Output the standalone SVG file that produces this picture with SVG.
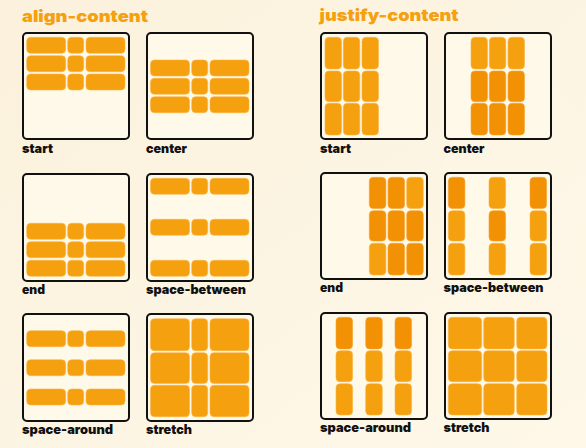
<svg xmlns="http://www.w3.org/2000/svg" width="586" height="448" viewBox="0 0 586 448">
<defs>
<linearGradient id="bg" x1="0" y1="0" x2="1" y2="1">
<stop offset="0" stop-color="#FBF1DC"/>
<stop offset="1" stop-color="#FEF8E9"/>
</linearGradient>
</defs>
<style>
.box{fill:#FFF9EA;stroke:#111;stroke-width:2}
.it{fill:#F5A00F;stroke:#F8B545;stroke-width:0.6}
.dk{fill:#F29104;stroke:#F5A432;stroke-width:0.6}
.ttl{font-family:"Inter","Noto Sans","DejaVu Sans",sans-serif;font-weight:900;font-size:16.5px;fill:#F5A00F}
.lbl{font-family:"Inter","Noto Sans","DejaVu Sans",sans-serif;font-weight:900;font-size:12.8px;fill:#111}
</style>
<rect width="586" height="448" fill="url(#bg)"/>
<polygon points="500,40 586,120 586,300 440,170" fill="#FEF7E6" opacity="0.6"/>
<text class="ttl" x="22" y="21.5" textLength="126" lengthAdjust="spacingAndGlyphs">align-content</text>
<text class="ttl" x="319.5" y="21" textLength="139" lengthAdjust="spacingAndGlyphs">justify-content</text>

<g id="ac-start">
<rect class="box" x="23" y="33" width="106" height="106" rx="4"/>
<rect class="it" x="26.7" y="37.3" width="39" height="16" rx="4"/><rect class="it" x="67.7" y="37.3" width="16" height="16" rx="4"/><rect class="it" x="86" y="37.3" width="39" height="16" rx="4"/>
<rect class="it" x="26.7" y="55.7" width="39" height="16" rx="4"/><rect class="it" x="67.7" y="55.7" width="16" height="16" rx="4"/><rect class="it" x="86" y="55.7" width="39" height="16" rx="4"/>
<rect class="it" x="26.7" y="74" width="39" height="16" rx="4"/><rect class="it" x="67.7" y="74" width="16" height="16" rx="4"/><rect class="it" x="86" y="74" width="39" height="16" rx="4"/>
<text class="lbl" x="22" y="153" textLength="31" lengthAdjust="spacingAndGlyphs">start</text>
</g>

<g id="ac-center">
<rect class="box" x="147" y="33" width="106" height="106" rx="4"/>
<rect class="it" x="150.5" y="60" width="39" height="16" rx="4"/><rect class="it" x="191.7" y="60" width="16" height="16" rx="4"/><rect class="it" x="210" y="60" width="39" height="16" rx="4"/>
<rect class="it" x="150.5" y="78.3" width="39" height="16" rx="4"/><rect class="it" x="191.7" y="78.3" width="16" height="16" rx="4"/><rect class="it" x="210" y="78.3" width="39" height="16" rx="4"/>
<rect class="it" x="150.5" y="96.7" width="39" height="16" rx="4"/><rect class="it" x="191.7" y="96.7" width="16" height="16" rx="4"/><rect class="it" x="210" y="96.7" width="39" height="16" rx="4"/>
<text class="lbl" x="146" y="153" textLength="41" lengthAdjust="spacingAndGlyphs">center</text>
</g>

<g id="ac-end">
<rect class="box" x="23" y="174" width="106" height="107" rx="4"/>
<rect class="it" x="26.7" y="223.3" width="39" height="16" rx="4"/><rect class="it" x="67.7" y="223.3" width="16" height="16" rx="4"/><rect class="it" x="86" y="223.3" width="39" height="16" rx="4"/>
<rect class="it" x="26.7" y="241.7" width="39" height="16" rx="4"/><rect class="it" x="67.7" y="241.7" width="16" height="16" rx="4"/><rect class="it" x="86" y="241.7" width="39" height="16" rx="4"/>
<rect class="it" x="26.7" y="260.3" width="39" height="16" rx="4"/><rect class="it" x="67.7" y="260.3" width="16" height="16" rx="4"/><rect class="it" x="86" y="260.3" width="39" height="16" rx="4"/>
<text class="lbl" x="22" y="293.5" textLength="23" lengthAdjust="spacingAndGlyphs">end</text>
</g>

<g id="ac-space-between">
<rect class="box" x="147" y="174" width="106" height="107" rx="4"/>
<rect class="it" x="150.5" y="178.3" width="39" height="16" rx="4"/><rect class="it" x="191.7" y="178.3" width="16" height="16" rx="4"/><rect class="it" x="210" y="178.3" width="39" height="16" rx="4"/>
<rect class="it" x="150.5" y="219.3" width="39" height="16" rx="4"/><rect class="it" x="191.7" y="219.3" width="16" height="16" rx="4"/><rect class="it" x="210" y="219.3" width="39" height="16" rx="4"/>
<rect class="it" x="150.5" y="260.3" width="39" height="16" rx="4"/><rect class="it" x="191.7" y="260.3" width="16" height="16" rx="4"/><rect class="it" x="210" y="260.3" width="39" height="16" rx="4"/>
<text class="lbl" x="146" y="293.5" textLength="100" lengthAdjust="spacingAndGlyphs">space-between</text>
</g>

<g id="ac-space-around">
<rect class="box" x="23" y="314" width="106" height="107" rx="4"/>
<rect class="it" x="26.7" y="330.7" width="39" height="16" rx="4"/><rect class="it" x="67.7" y="330.7" width="16" height="16" rx="4"/><rect class="it" x="86" y="330.7" width="39" height="16" rx="4"/>
<rect class="it" x="26.7" y="359.7" width="39" height="16" rx="4"/><rect class="it" x="67.7" y="359.7" width="16" height="16" rx="4"/><rect class="it" x="86" y="359.7" width="39" height="16" rx="4"/>
<rect class="it" x="26.7" y="389" width="39" height="16" rx="4"/><rect class="it" x="67.7" y="389" width="16" height="16" rx="4"/><rect class="it" x="86" y="389" width="39" height="16" rx="4"/>
<text class="lbl" x="22" y="434" textLength="91" lengthAdjust="spacingAndGlyphs">space-around</text>
</g>

<g id="ac-stretch">
<rect class="box" x="147" y="314" width="106" height="107" rx="4"/>
<rect class="it" x="150.5" y="318.7" width="39" height="32" rx="4"/><rect class="it" x="191.7" y="318.7" width="16" height="32" rx="4"/><rect class="it" x="210" y="318.7" width="39" height="32" rx="4"/>
<rect class="it" x="150.5" y="352.7" width="39" height="30.7" rx="4"/><rect class="it" x="191.7" y="352.7" width="16" height="30.7" rx="4"/><rect class="it" x="210" y="352.7" width="39" height="30.7" rx="4"/>
<rect class="it" x="150.5" y="385.3" width="39" height="31.4" rx="4"/><rect class="it" x="191.7" y="385.3" width="16" height="31.4" rx="4"/><rect class="it" x="210" y="385.3" width="39" height="31.4" rx="4"/>
<text class="lbl" x="146" y="434" textLength="46" lengthAdjust="spacingAndGlyphs">stretch</text>
</g>

<g id="jc-start">
<rect class="box" x="321" y="33" width="106" height="106" rx="4"/>
<rect class="it" x="325" y="37.3" width="16.5" height="31.7" rx="4"/><rect class="it" x="343.3" y="37.3" width="16.5" height="31.7" rx="4"/><rect class="it" x="362" y="37.3" width="16.5" height="31.7" rx="4"/>
<rect class="it" x="325" y="71" width="16.5" height="30.7" rx="4"/><rect class="it" x="343.3" y="71" width="16.5" height="30.7" rx="4"/><rect class="it" x="362" y="71" width="16.5" height="30.7" rx="4"/>
<rect class="it" x="325" y="103.3" width="16.5" height="31.7" rx="4"/><rect class="it" x="343.3" y="103.3" width="16.5" height="31.7" rx="4"/><rect class="it" x="362" y="103.3" width="16.5" height="31.7" rx="4"/>
<text class="lbl" x="320" y="152.5" textLength="31" lengthAdjust="spacingAndGlyphs">start</text>
</g>

<g id="jc-center">
<rect class="box" x="445" y="33" width="106" height="106" rx="4"/>
<rect class="it" x="471" y="37.3" width="16.5" height="31.7" rx="4"/><rect class="it" x="489.3" y="37.3" width="16.5" height="31.7" rx="4"/><rect class="it" x="508" y="37.3" width="16.5" height="31.7" rx="4"/>
<rect class="dk" x="471" y="71" width="16.5" height="30.7" rx="4"/><rect class="dk" x="489.3" y="71" width="16.5" height="30.7" rx="4"/><rect class="dk" x="508" y="71" width="16.5" height="30.7" rx="4"/>
<rect class="dk" x="471" y="103.3" width="16.5" height="31.7" rx="4"/><rect class="dk" x="489.3" y="103.3" width="16.5" height="31.7" rx="4"/><rect class="dk" x="508" y="103.3" width="16.5" height="31.7" rx="4"/>
<text class="lbl" x="443.5" y="152.5" textLength="41" lengthAdjust="spacingAndGlyphs">center</text>
</g>

<g id="jc-end">
<rect class="box" x="321" y="173" width="106" height="106" rx="4"/>
<rect class="dk" x="369.3" y="177.3" width="16.6" height="31.2" rx="4"/><rect class="dk" x="388" y="177.3" width="16.6" height="31.2" rx="4"/><rect class="it" x="406.7" y="177.3" width="16.6" height="31.2" rx="4"/>
<rect class="dk" x="369.3" y="210.7" width="16.6" height="30.4" rx="4"/><rect class="dk" x="388" y="210.7" width="16.6" height="30.4" rx="4"/><rect class="dk" x="406.7" y="210.7" width="16.6" height="30.4" rx="4"/>
<rect class="it" x="369.3" y="243.3" width="16.6" height="31.7" rx="4"/><rect class="dk" x="388" y="243.3" width="16.6" height="31.7" rx="4"/><rect class="dk" x="406.7" y="243.3" width="16.6" height="31.7" rx="4"/>
<text class="lbl" x="320" y="292" textLength="23" lengthAdjust="spacingAndGlyphs">end</text>
</g>

<g id="jc-space-between">
<rect class="box" x="445" y="173" width="106" height="106" rx="4"/>
<rect class="dk" x="448.3" y="177.3" width="16.6" height="31.2" rx="4"/><rect class="it" x="489" y="177.3" width="16.6" height="31.2" rx="4"/><rect class="dk" x="530" y="177.3" width="16.6" height="31.2" rx="4"/>
<rect class="it" x="448.3" y="210.7" width="16.6" height="30.4" rx="4"/><rect class="dk" x="489" y="210.7" width="16.6" height="30.4" rx="4"/><rect class="it" x="530" y="210.7" width="16.6" height="30.4" rx="4"/>
<rect class="it" x="448.3" y="243.3" width="16.6" height="31.7" rx="4"/><rect class="it" x="489" y="243.3" width="16.6" height="31.7" rx="4"/><rect class="it" x="530" y="243.3" width="16.6" height="31.7" rx="4"/>
<text class="lbl" x="443.5" y="292" textLength="100" lengthAdjust="spacingAndGlyphs">space-between</text>
</g>

<g id="jc-space-around">
<rect class="box" x="321" y="313" width="106" height="106" rx="4"/>
<rect class="dk" x="336" y="317.3" width="16.6" height="31.6" rx="4"/><rect class="dk" x="365.7" y="317.3" width="16.6" height="31.6" rx="4"/><rect class="dk" x="395" y="317.3" width="16.6" height="31.6" rx="4"/>
<rect class="it" x="336" y="350.7" width="16.6" height="31" rx="4"/><rect class="it" x="365.7" y="350.7" width="16.6" height="31" rx="4"/><rect class="it" x="395" y="350.7" width="16.6" height="31" rx="4"/>
<rect class="it" x="336" y="383.7" width="16.6" height="31.3" rx="4"/><rect class="it" x="365.7" y="383.7" width="16.6" height="31.3" rx="4"/><rect class="it" x="395" y="383.7" width="16.6" height="31.3" rx="4"/>
<text class="lbl" x="320" y="432" textLength="91" lengthAdjust="spacingAndGlyphs">space-around</text>
</g>

<g id="jc-stretch">
<rect class="box" x="445" y="313" width="106" height="106" rx="4"/>
<rect class="it" x="448.3" y="317.3" width="33.4" height="31.6" rx="4"/><rect class="it" x="483.7" y="317.3" width="30.6" height="31.6" rx="4"/><rect class="it" x="516.7" y="317.3" width="30.3" height="31.6" rx="4"/>
<rect class="it" x="448.3" y="350.7" width="33.4" height="31" rx="4"/><rect class="it" x="483.7" y="350.7" width="30.6" height="31" rx="4"/><rect class="it" x="516.7" y="350.7" width="30.3" height="31" rx="4"/>
<rect class="it" x="448.3" y="383.7" width="33.4" height="31.3" rx="4"/><rect class="it" x="483.7" y="383.7" width="30.6" height="31.3" rx="4"/><rect class="it" x="516.7" y="383.7" width="30.3" height="31.3" rx="4"/>
<text class="lbl" x="443.5" y="432" textLength="46" lengthAdjust="spacingAndGlyphs">stretch</text>
</g>

<g id="connectors"/>
</svg>
